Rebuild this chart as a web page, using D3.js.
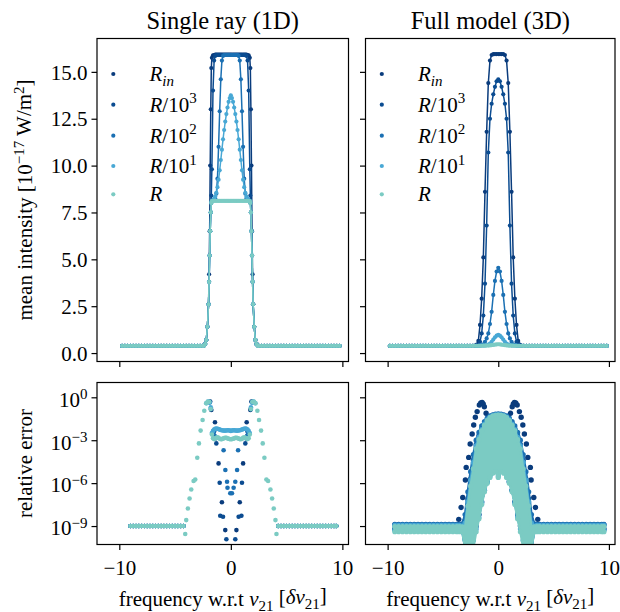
<!DOCTYPE html>
<html><head><meta charset="utf-8">
<script src="https://cdn.jsdelivr.net/npm/d3@7/dist/d3.min.js"></script>
<style>
html,body{margin:0;padding:0;background:#fff;}
text{font-family:"Liberation Serif","Times New Roman",serif;fill:#000;}
</style></head><body>
<svg id="chart" width="620" height="612" xmlns="http://www.w3.org/2000/svg"></svg>
<script>
// ================= DATA =================
const seriesKeys = ["Rin","R/10^3","R/10^2","R/10^1","R"];
const legendLabels = [{t:"R",sub:"in"},{t:"R",rest:"/10",sup:"3"},{t:"R",rest:"/10",sup:"2"},{t:"R",rest:"/10",sup:"1"},{t:"R"}];
const colors = ["#0a3c7d","#0b4c91","#1b70b3","#48a8d5","#7bcbc3"];
const panelTitles = ["Single ray (1D)","Full model (3D)"];
const xTicks = [-10,0,10];
const xTickLabels = ["\u221210","0","10"];
const yTopTicks = [0,2.5,5,7.5,10,12.5,15];
const yTopTickLabels = ["0.0","2.5","5.0","7.5","10.0","12.5","15.0"];
const yBotTicks = [1,1e-3,1e-6,1e-9];
const yBotTickExp = ["0","\u22123","\u22126","\u22129"];

// ---- Top-left: single ray (1D), mean intensity ----
const wing1D_left = [-9.75,-9.5,-9.25,-9.0,-8.75,-8.5,-8.25,-8.0,-7.75,-7.5,-7.25,-7.0,-6.75,-6.5,-6.25,-6.0,-5.75,-5.5,-5.25,-5.0,-4.75,-4.5,-4.25,-4.0,-3.75,-3.5,-3.25,-3.0,-2.75,-2.5];
const wing1D_right = [2.5,2.75,3.0,3.25,3.5,3.75,4.0,4.25,4.5,4.75,5.0,5.25,5.5,5.75,6.0,6.25,6.5,6.75,7.0,7.25,7.5,7.75,8.0,8.25,8.5,8.75,9.0,9.25,9.5,9.75];
const wing1D_level = [0.38,0.38,0.38,0.38,0.38];
const core1D_x = [-2.4,-2.3,-2.2,-2.1,-2.0,-1.95,-1.9,-1.85,-1.8,-1.75,-1.7,-1.6,-1.5,-1.4,-1.3,-1.2,-1.1,-1.0,-0.9,-0.8,-0.7,-0.6,-0.5,-0.4,-0.3,-0.2,-0.1,0,0.1,0.2,0.3,0.4,0.5,0.6,0.7,0.8,0.9,1.0,1.1,1.2,1.3,1.4,1.5,1.6,1.7,1.75,1.8,1.85,1.9,1.95,2.0,2.1,2.2,2.3,2.4];
const I1D_Rin = [0.42,0.5,0.7,1.4,2.6,4.2,6.5,10.0,13.0,15.2,15.75,15.88,15.9,15.92,15.92,15.92,15.92,15.92,15.92,15.92,15.92,15.92,15.92,15.92,15.92,15.92,15.92,15.92,15.92,15.92,15.92,15.92,15.92,15.92,15.92,15.92,15.92,15.92,15.92,15.92,15.92,15.92,15.9,15.88,15.75,15.2,13.0,10.0,6.5,4.2,2.6,1.4,0.7,0.5,0.42];
const I1D_R1e3 = [0.4,0.48,0.7,1.4,2.6,3.8,5.2,6.5,7.5,8.4,9.8,14.0,15.6,15.85,15.9,15.9,15.9,15.9,15.9,15.9,15.9,15.9,15.9,15.9,15.9,15.9,15.9,15.9,15.9,15.9,15.9,15.9,15.9,15.9,15.9,15.9,15.9,15.9,15.9,15.9,15.9,15.85,15.6,14.0,9.8,8.4,7.5,6.5,5.2,3.8,2.6,1.4,0.7,0.48,0.4];
const I1D_R1e2 = [0.4,0.48,0.7,1.4,2.6,3.8,5.2,6.5,7.5,8.0,8.12,8.15,8.2,8.25,8.5,9.3,11.0,12.9,14.6,15.6,15.85,15.9,15.9,15.9,15.9,15.9,15.9,15.9,15.9,15.9,15.9,15.9,15.9,15.9,15.85,15.6,14.6,12.9,11.0,9.3,8.5,8.25,8.2,8.15,8.12,8.0,7.5,6.5,5.2,3.8,2.6,1.4,0.7,0.48,0.4];
const I1D_R1e1 = [0.4,0.48,0.7,1.4,2.6,3.8,5.2,6.5,7.5,8.05,8.12,8.15,8.22,8.35,8.55,8.85,9.25,9.75,10.3,10.85,11.4,11.9,12.35,12.75,13.1,13.4,13.6,13.75,13.6,13.4,13.1,12.75,12.35,11.9,11.4,10.85,10.3,9.75,9.25,8.85,8.55,8.35,8.22,8.15,8.12,8.05,7.5,6.5,5.2,3.8,2.6,1.4,0.7,0.48,0.4];
const I1D_R = [0.4,0.48,0.7,1.4,2.6,3.8,5.2,6.5,7.5,8.0,8.1,8.12,8.12,8.12,8.12,8.12,8.12,8.12,8.12,8.12,8.12,8.12,8.12,8.12,8.12,8.12,8.12,8.12,8.12,8.12,8.12,8.12,8.12,8.12,8.12,8.12,8.12,8.12,8.12,8.12,8.12,8.12,8.12,8.12,8.1,8.0,7.5,6.5,5.2,3.8,2.6,1.4,0.7,0.48,0.4];

// ---- Top-right: full model (3D), mean intensity ----
const wing3D_left = [-9.8,-9.55,-9.3,-9.05,-8.8,-8.55,-8.3,-8.05,-7.8,-7.55,-7.3,-7.05,-6.8,-6.55,-6.3,-6.05,-5.8,-5.55,-5.3,-5.05,-4.8,-4.55,-4.3,-4.05,-3.8,-3.55,-3.3,-3.05,-2.8,-2.55,-2.3];
const wing3D_right = [2.3,2.55,2.8,3.05,3.3,3.55,3.8,4.05,4.3,4.55,4.8,5.05,5.3,5.55,5.8,6.05,6.3,6.55,6.8,7.05,7.3,7.55,7.8,8.05,8.3,8.55,8.8,9.05,9.3,9.55,9.8];
const wing3D_level = [0.38,0.38,0.38,0.38,0.38];
const core3D_x = [-2.1,-1.95,-1.8,-1.65,-1.5,-1.35,-1.2,-1.05,-0.9,-0.75,-0.6,-0.45,-0.3,-0.15,0,0.15,0.3,0.45,0.6,0.75,0.9,1.05,1.2,1.35,1.5,1.65,1.8,1.95,2.1];
const I3D_Rin = [0.4,0.45,0.65,1.5,2.9,5.1,8.6,11.8,14.4,15.6,15.9,15.95,15.95,15.95,15.95,15.95,15.95,15.95,15.9,15.6,14.4,11.8,8.6,5.1,2.9,1.5,0.65,0.45,0.4];
const I3D_R1e3 = [0.39,0.4,0.45,0.6,1.05,2.0,3.7,6.8,10.7,12.5,13.3,13.8,14.2,14.5,14.6,14.5,14.2,13.8,13.3,12.5,10.7,6.8,3.7,2.0,1.05,0.6,0.45,0.4,0.39];
const I3D_R1e2 = [0.39,0.39,0.39,0.4,0.42,0.47,0.6,0.78,1.05,1.55,2.2,3.1,3.85,4.35,4.55,4.35,3.85,3.1,2.2,1.55,1.05,0.78,0.6,0.47,0.42,0.4,0.39,0.39,0.39];
const I3D_R1e1 = [0.39,0.39,0.39,0.4,0.4,0.4,0.4,0.42,0.45,0.51,0.6,0.72,0.84,0.93,0.97,0.93,0.84,0.72,0.6,0.51,0.45,0.42,0.4,0.4,0.4,0.4,0.39,0.39,0.39];
const I3D_R = [0.39,0.39,0.39,0.39,0.39,0.4,0.4,0.4,0.4,0.41,0.42,0.43,0.45,0.46,0.47,0.46,0.45,0.43,0.42,0.41,0.4,0.4,0.4,0.4,0.39,0.39,0.39,0.39,0.39];

// ---- Bottom-left: single ray (1D), relative error ----
const errWing1D_left = [-9.0,-8.75,-8.5,-8.25,-8.0,-7.75,-7.5,-7.25,-7.0,-6.75,-6.5,-6.25,-6.0,-5.75,-5.5,-5.25,-5.0,-4.75,-4.5,-4.25];
const errWing1D_right = [4.25,4.5,4.75,5.0,5.25,5.5,5.75,6.0,6.25,6.5,6.75,7.0,7.25,7.5,7.75,8.0,8.25,8.5,8.75,9.0,9.25,9.45];
const errWing1D_level = [1.0e-9,1.0e-9,1.0e-9,1.0e-9,1.0e-9];
const err1D_Rin_x = [-1.85,-1.75,-1.42,-1.1,-0.8,-0.5,0.5,0.8,1.1,1.42,1.75,1.85];
const err1D_Rin_v = [0.5,0.13,1.8e-2,2.4e-5,4.6e-8,5.2e-10,5.2e-10,4.6e-8,2.4e-5,1.8e-2,0.13,0.5];
const err1D_R1e3_x = [-1.9,-1.5,-1.4,-1.3,-1.0,-0.95,-0.7,-0.4,0.4,0.7,0.95,1.0,1.3,1.4,1.5,1.9];
const err1D_R1e3_v = [0.45,4.0e-3,1.3e-3,6.0e-4,1.07e-6,5.2e-9,4.5e-9,1.2e-10,1.2e-10,4.5e-9,5.2e-9,1.07e-6,6.0e-4,1.3e-3,4.0e-3,0.45];
const err1D_R1e2_x = [-1.9,-1.8,-1.55,-1.45,-0.65,-0.49,-0.34,-0.3,-0.05,0.1,0.25,0.4,0.56,0.65,1.45,1.55,1.8,1.9];
const err1D_R1e2_v = [0.48,0.15,3.5e-3,2.0e-3,2.0e-4,8.3e-6,1.26e-6,4.8e-7,1.95e-7,1.95e-7,4.8e-7,1.26e-6,8.3e-6,2.0e-4,2.0e-3,3.5e-3,0.15,0.48];
const err1D_R1e1_x = [-2.2,-2.05,-1.9,-1.8,-1.7,-1.6,-1.5,-1.4,-1.3,-1.2,-1.1,-1.0,-0.9,-0.8,-0.7,-0.6,-0.5,-0.4,-0.3,-0.2,-0.1,0,0.1,0.2,0.3,0.4,0.5,0.6,0.7,0.8,0.9,1.0,1.1,1.2,1.3,1.4,1.5,1.6,1.7,1.8,1.9,2.05,2.2];
const err1D_R1e1_v = [0.38,0.5,0.42,0.2,3.2e-3,4.5e-3,5.6e-3,6.3e-3,6.6e-3,6.3e-3,6.0e-3,5.6e-3,5.2e-3,5.0e-3,4.8e-3,4.7e-3,4.7e-3,4.8e-3,5.0e-3,5.0e-3,4.8e-3,4.5e-3,4.8e-3,5.0e-3,5.0e-3,4.8e-3,4.7e-3,4.7e-3,4.8e-3,5.0e-3,5.2e-3,5.6e-3,6.0e-3,6.3e-3,6.6e-3,6.3e-3,5.6e-3,4.5e-3,3.2e-3,0.2,0.42,0.5,0.38];
const err1D_R_x = [-4.09,-4.0,-3.85,-3.7,-3.55,-3.34,-3.19,-3.01,-2.86,-2.71,-2.53,-2.38,-2.2,-2.08,-1.93,-1.8,-1.7,-1.6,-1.5,-1.4,-1.3,-1.2,-1.1,-1.0,-0.9,-0.8,-0.7,-0.6,-0.5,-0.4,-0.3,-0.2,-0.1,0,0.1,0.2,0.3,0.4,0.5,0.6,0.7,0.8,0.9,1.0,1.1,1.2,1.3,1.4,1.5,1.6,1.7,1.8,1.93,2.08,2.2,2.38,2.53,2.71,2.86,3.01,3.19,3.34,3.55,3.7,3.85,4.0,4.09];
const err1D_R_v = [2.8e-10,2.6e-9,1.7e-8,8.5e-8,3.6e-7,1.4e-6,1.8e-6,6.0e-5,6.0e-4,4.7e-3,2.6e-2,0.115,0.38,0.49,0.49,0.15,2.5e-3,1.4e-3,1.2e-3,1.3e-3,1.5e-3,1.6e-3,1.45e-3,1.26e-3,1.17e-3,1.2e-3,1.3e-3,1.4e-3,1.48e-3,1.45e-3,1.35e-3,1.26e-3,1.2e-3,1.17e-3,1.2e-3,1.26e-3,1.35e-3,1.45e-3,1.48e-3,1.4e-3,1.3e-3,1.2e-3,1.17e-3,1.26e-3,1.45e-3,1.6e-3,1.5e-3,1.3e-3,1.2e-3,1.4e-3,2.5e-3,0.15,0.49,0.49,0.38,0.115,2.6e-2,4.7e-3,6.0e-4,6.0e-5,1.8e-6,1.4e-6,3.6e-7,8.5e-8,1.7e-8,2.6e-9,2.8e-10];

// ---- Bottom-right: full model (3D), relative error (band of cells) ----
const errWing3D_left = [-9.35,-9.0,-8.65,-8.3,-7.95,-7.6,-7.25,-6.9,-6.55,-6.2,-5.85,-5.5,-5.15,-4.8,-4.45,-4.1,-3.75,-3.5];
const errWing3D_right = [3.5,3.75,4.1,4.45,4.8,5.15,5.5,5.85,6.2,6.55,6.9,7.25,7.6,7.95,8.3,8.65,9.0,9.35,9.55];
const errWing3D_hi = [null,1.25e-9,1.3e-9,1.1e-9,9.3e-10];
const errWing3D_lo = [null,6.3e-10,6.3e-10,5.0e-10,4.0e-10];
const band3D_x = [-3.25,-3.0,-2.75,-2.5,-2.25,-2.0,-1.75,-1.5,-1.25,-1.0,-0.75,-0.5,-0.25,0,0.25,0.5,0.75,1.0,1.25,1.5,1.75,2.0,2.25,2.5,2.75,3.0,3.25];
const band3D_R1e3_hi = [1.2e-9,2.5e-9,7.9e-8,2.0e-6,4.0e-5,5.0e-4,2.0e-3,6.3e-3,1.5e-2,2.8e-2,4.3e-2,5.4e-2,6.0e-2,6.3e-2,6.0e-2,5.4e-2,4.3e-2,2.8e-2,1.5e-2,6.3e-3,2.0e-3,5.0e-4,4.0e-5,2.0e-6,7.9e-8,2.5e-9,1.2e-9];
const band3D_R1e3_lo = [6.3e-10,3.2e-11,3.2e-11,1.0e-10,2.5e-10,1.0e-9,6.3e-9,5.0e-8,3.2e-7,1.26e-6,4.0e-6,1.26e-5,2.5e-5,1.0e-5,2.5e-5,1.26e-5,4.0e-6,1.26e-6,3.2e-7,5.0e-8,6.3e-9,1.0e-9,2.5e-10,1.0e-10,3.2e-11,3.2e-11,6.3e-10];
const band3D_R1e2_hi = [1.4e-9,6.3e-9,2.5e-7,6.3e-6,1.0e-4,1.0e-3,3.5e-3,1.0e-2,2.0e-2,3.5e-2,5.0e-2,6.0e-2,6.6e-2,6.9e-2,6.6e-2,6.0e-2,5.0e-2,3.5e-2,2.0e-2,1.0e-2,3.5e-3,1.0e-3,1.0e-4,6.3e-6,2.5e-7,6.3e-9,1.4e-9];
const band3D_R1e2_lo = [6.3e-10,3.2e-11,3.2e-11,1.0e-10,2.5e-10,1.0e-9,6.3e-9,5.0e-8,3.2e-7,1.26e-6,4.0e-6,1.26e-5,2.5e-5,1.0e-5,2.5e-5,1.26e-5,4.0e-6,1.26e-6,3.2e-7,5.0e-8,6.3e-9,1.0e-9,2.5e-10,1.0e-10,3.2e-11,3.2e-11,6.3e-10];
const band3D_R1e1_hi = [1.0e-9,1.6e-9,5.0e-8,1.6e-6,2.8e-5,4.0e-4,1.6e-3,5.6e-3,1.35e-2,2.7e-2,4.2e-2,5.2e-2,5.9e-2,6.3e-2,5.9e-2,5.2e-2,4.2e-2,2.7e-2,1.35e-2,5.6e-3,1.6e-3,4.0e-4,2.8e-5,1.6e-6,5.0e-8,1.6e-9,1.0e-9];
const band3D_R1e1_lo = [4.0e-10,3.2e-11,3.2e-11,3.2e-11,1.0e-10,6.3e-10,4.0e-9,4.0e-8,3.2e-7,1.26e-6,3.2e-6,6.3e-6,8.0e-6,3.2e-6,8.0e-6,6.3e-6,3.2e-6,1.26e-6,3.2e-7,4.0e-8,4.0e-9,6.3e-10,1.0e-10,3.2e-11,3.2e-11,3.2e-11,4.0e-10];
const band3D_R_hi = [8.9e-10,7.9e-10,2.5e-8,6.3e-7,1.0e-5,2.5e-4,1.1e-3,4.5e-3,1.1e-2,2.4e-2,3.8e-2,4.9e-2,5.4e-2,5.8e-2,5.4e-2,4.9e-2,3.8e-2,2.4e-2,1.1e-2,4.5e-3,1.1e-3,2.5e-4,1.0e-5,6.3e-7,2.5e-8,7.9e-10,8.9e-10];
const band3D_R_lo = [4.0e-10,3.2e-11,3.2e-11,3.2e-11,3.2e-11,4.0e-10,3.2e-9,3.2e-8,2.5e-7,1.0e-6,2.5e-6,5.0e-6,6.3e-6,2.5e-6,6.3e-6,5.0e-6,2.5e-6,1.0e-6,2.5e-7,3.2e-8,3.2e-9,4.0e-10,3.2e-11,3.2e-11,3.2e-11,3.2e-11,4.0e-10];
const err3D_Rin_x = [-3.57,-3.36,-3.21,-2.97,-2.9,-2.67,-2.54,-2.36,-2.22,-2.07,-1.91,-1.71,-1.58,-1.46,-1.36,-1.26,-1.1,-0.9,0.9,1.1,1.26,1.36,1.46,1.58,1.71,1.91,2.07,2.22,2.36,2.54,2.67,2.9,2.97,3.21,3.36,3.57];
const err3D_Rin_v = [2.95e-9,2.0e-8,1.0e-7,1.66e-6,1.26e-5,6.3e-5,5.4e-4,2.7e-3,1.15e-2,4.0e-2,0.1,0.29,0.4,0.43,0.35,0.22,7.6e-2,4.0e-2,4.0e-2,7.6e-2,0.22,0.35,0.43,0.4,0.29,0.1,4.0e-2,1.15e-2,2.7e-3,5.4e-4,6.3e-5,1.26e-5,1.66e-6,1.0e-7,2.0e-8,2.95e-9];

// ================= LAYOUT =================
const cols = [{x0:97,x1:348.5},{x0:365.5,x1:615}];
const rows = [{y0:38.5,y1:361.5},{y0:382.5,y1:544.5}];
const xDomain = [-12.0,10.55];
const yTopDomain = [-0.45,16.78];
const yBotDomain = [5.13e-11,10.84];
const FS = 21;

const svg = d3.select("#chart");
const defs = svg.append("defs");

function makePanel(ci,ri){
  const c=cols[ci], r=rows[ri];
  const x=d3.scaleLinear().domain(xDomain).range([c.x0,c.x1]);
  const y= ri===0 ? d3.scaleLinear().domain(yTopDomain).range([r.y1,r.y0])
                  : d3.scaleLog().domain(yBotDomain).range([r.y1,r.y0]);
  const id="clip"+ci+ri;
  defs.append("clipPath").attr("id",id).append("rect")
    .attr("x",c.x0).attr("y",r.y0).attr("width",c.x1-c.x0).attr("height",r.y1-r.y0);
  const g=svg.append("g").attr("clip-path","url(#"+id+")");
  return {x,y,g,c,r,ci,ri};
}

function drawTop(P, wingL, wingR, coreX, series, levels){
  series.forEach((vals,i)=>{
    const pts=[].concat(wingL.map(v=>[v,levels[i]]), coreX.map((v,j)=>[v,vals[j]]), wingR.map(v=>[v,levels[i]]));
    P.g.append("path").datum(pts)
      .attr("d",d3.line().x(d=>P.x(d[0])).y(d=>P.y(d[1])))
      .attr("fill","none").attr("stroke",colors[i]).attr("stroke-width",1.5);
    P.g.append("g").selectAll("circle").data(pts).join("circle")
      .attr("cx",d=>P.x(d[0])).attr("cy",d=>P.y(d[1])).attr("r",2.1).attr("fill",colors[i]);
  });
}

function drawScatter(P, xs, vs, color, r){
  P.g.append("g").selectAll("circle").data(xs.map((v,j)=>[v,vs[j]])).join("circle")
    .attr("cx",d=>P.x(d[0])).attr("cy",d=>P.y(d[1])).attr("r",r).attr("fill",color);
}

function drawBand(P, i, xs, hi, lo, wHi, wLo, wingL, wingR){
  const pts=[].concat(wingL.map(v=>[v,wHi,wLo]), xs.map((v,j)=>[v,hi[j],lo[j]]), wingR.map(v=>[v,wHi,wLo]));
  P.g.append("path").datum(pts)
    .attr("d",d3.area().x(d=>P.x(d[0])).y0(d=>P.y(d[2])).y1(d=>P.y(d[1])))
    .attr("fill",colors[i]).attr("stroke",colors[i]).attr("stroke-width",2.5).attr("stroke-linejoin","round");
  const edge=[].concat(pts.map(d=>[d[0],d[1]]), pts.map(d=>[d[0],d[2]]));
  P.g.append("g").selectAll("circle").data(edge).join("circle")
    .attr("cx",d=>P.x(d[0])).attr("cy",d=>P.y(d[1])).attr("r",2.6).attr("fill",colors[i]);
}

function frameAndAxes(P){
  const {c,r,ci,ri}=P;
  const ax=d3.axisBottom(P.x).tickValues(xTicks).tickSize(5.5).tickPadding(5).tickSizeOuter(0)
      .tickFormat((d,i)=> ri===1 ? xTickLabels[i] : "");
  const gx=svg.append("g").attr("transform","translate(0,"+r.y1+")").call(ax);
  gx.select(".domain").remove();
  gx.selectAll("line").attr("stroke","#000").attr("stroke-width",1.2);
  gx.selectAll("text").attr("font-size",FS+"px").attr("dy","0.93em");
  let ay;
  if(ri===0){
    ay=d3.axisLeft(P.y).tickValues(yTopTicks).tickSize(5.5).tickPadding(4).tickSizeOuter(0)
      .tickFormat((d,i)=> ci===0 ? yTopTickLabels[i] : "");
  } else {
    ay=d3.axisLeft(P.y).tickValues(yBotTicks).tickSize(5.5).tickPadding(4).tickSizeOuter(0).tickFormat(()=>"");
  }
  const gy=svg.append("g").attr("transform","translate("+c.x0+",0)").call(ay);
  gy.select(".domain").remove();
  gy.selectAll("line").attr("stroke","#000").attr("stroke-width",1.2);
  gy.selectAll("text").attr("font-size",FS+"px").attr("dy","0.34em");
  if(ri===1 && ci===0){
    gy.selectAll(".tick text").each(function(d,i){
      const t=d3.select(this); t.text(null).attr("dy","0.42em");
      t.append("tspan").text("10");
      t.append("tspan").attr("dy","-0.5em").attr("font-size","15px").text(yBotTickExp[i]);
    });
  }
  svg.append("rect").attr("x",c.x0).attr("y",r.y0).attr("width",c.x1-c.x0).attr("height",r.y1-r.y0)
    .attr("fill","none").attr("stroke","#000").attr("stroke-width",1.2);
}

function legend(P){
  const lx=P.c.x0+16.3, tx=P.c.x0+52.5;
  const ys=[74,104.7,135.7,166,194.3];
  legendLabels.forEach((L,i)=>{
    svg.append("circle").attr("cx",lx).attr("cy",ys[i]).attr("r",2.1).attr("fill",colors[i]);
    const t=svg.append("text").attr("x",tx).attr("y",ys[i]+7).attr("font-size","21px");
    t.append("tspan").attr("font-style","italic").text(L.t);
    if(L.sub){ t.append("tspan").attr("font-style","italic").attr("font-size","15px").attr("dy","0.3em").text(L.sub); }
    if(L.rest){ t.append("tspan").text(L.rest); }
    if(L.sup){ t.append("tspan").attr("font-size","15px").attr("dy","-0.55em").text(L.sup); }
  });
}

const P00=makePanel(0,0);
drawTop(P00, wing1D_left, wing1D_right, core1D_x, [I1D_Rin,I1D_R1e3,I1D_R1e2,I1D_R1e1,I1D_R], wing1D_level);
frameAndAxes(P00); legend(P00);
const P10=makePanel(1,0);
drawTop(P10, wing3D_left, wing3D_right, core3D_x, [I3D_Rin,I3D_R1e3,I3D_R1e2,I3D_R1e1,I3D_R], wing3D_level);
frameAndAxes(P10); legend(P10);
const P01=makePanel(0,1);
const err1D=[[err1D_Rin_x,err1D_Rin_v],[err1D_R1e3_x,err1D_R1e3_v],[err1D_R1e2_x,err1D_R1e2_v],[err1D_R1e1_x,err1D_R1e1_v],[err1D_R_x,err1D_R_v]];
err1D.forEach((s,i)=>{
  drawScatter(P01, errWing1D_left, errWing1D_left.map(()=>errWing1D_level[i]), colors[i], 2.3);
  drawScatter(P01, errWing1D_right, errWing1D_right.map(()=>errWing1D_level[i]), colors[i], 2.3);
  drawScatter(P01, s[0], s[1], colors[i], 2.3);
});
frameAndAxes(P01);
const P11=makePanel(1,1);
drawScatter(P11, err3D_Rin_x, err3D_Rin_v, colors[0], 2.7);
const bands=[null,[band3D_R1e3_hi,band3D_R1e3_lo],[band3D_R1e2_hi,band3D_R1e2_lo],[band3D_R1e1_hi,band3D_R1e1_lo],[band3D_R_hi,band3D_R_lo]];
bands.forEach((b,i)=>{ if(b) drawBand(P11,i,band3D_x,b[0],b[1],errWing3D_hi[i],errWing3D_lo[i],errWing3D_left,errWing3D_right); });
frameAndAxes(P11);

panelTitles.forEach((t,ci)=>{
  svg.append("text").attr("x",(cols[ci].x0+cols[ci].x1)/2).attr("y",29).attr("text-anchor","middle")
    .attr("font-size","24.5px").text(t);
  const xl=svg.append("text").attr("x",(cols[ci].x0+cols[ci].x1)/2).attr("y",606).attr("text-anchor","middle").attr("font-size",FS+"px");
  xl.append("tspan").text("frequency w.r.t ");
  xl.append("tspan").attr("font-style","italic").text("\u03bd");
  xl.append("tspan").attr("font-size","15px").attr("dy","0.3em").text("21");
  xl.append("tspan").attr("dy","-0.3em").text(" [");
  xl.append("tspan").attr("font-style","italic").text("\u03b4\u03bd");
  xl.append("tspan").attr("font-size","15px").attr("dy","0.3em").text("21");
  xl.append("tspan").attr("dy","-0.3em").text("]");
});
const yl=svg.append("text").attr("transform","translate(31.5,"+((rows[0].y0+rows[0].y1)/2)+") rotate(-90)")
  .attr("text-anchor","middle").attr("font-size",FS+"px");
yl.append("tspan").text("mean intensity [10");
yl.append("tspan").attr("font-size","15px").attr("dy","-0.5em").text("\u221217");
yl.append("tspan").attr("dy","0.35em").text(" W/m");
yl.append("tspan").attr("font-size","15px").attr("dy","-0.5em").text("2");
yl.append("tspan").attr("dy","0.35em").text("]");
svg.append("text").attr("transform","translate(31.5,"+((rows[1].y0+rows[1].y1)/2)+") rotate(-90)")
  .attr("text-anchor","middle").attr("font-size",FS+"px").text("relative error");
</script></body></html>
